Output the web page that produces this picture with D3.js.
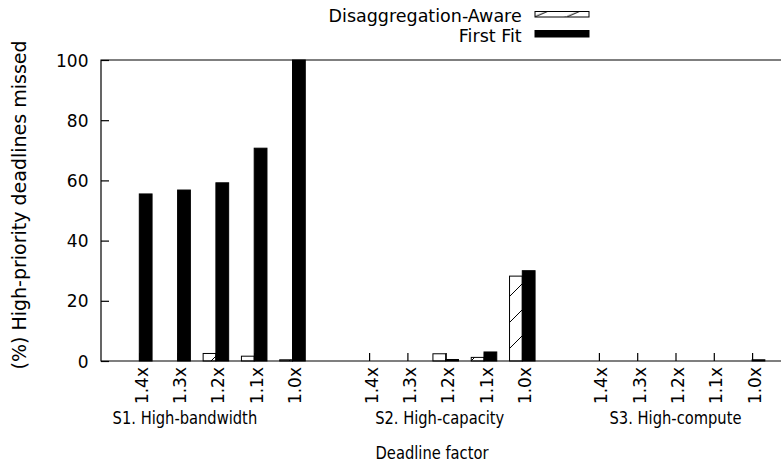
<!DOCTYPE html>
<html>
<head>
<meta charset="utf-8">
<script src="https://cdn.jsdelivr.net/npm/d3@7"></script>
<style>
  body { margin: 0; background: #fff; }
  text { font-family: "DejaVu Sans", sans-serif; fill: #000; }
</style>
</head>
<body>
<svg id="chart" width="781" height="465"></svg>
<script>
// deadline factors inside each scenario group
const categories = ['1.4x', '1.3x', '1.2x', '1.1x', '1.0x'];
const groups = ['S1. High-bandwidth', 'S2. High-capacity', 'S3. High-compute'];
const series = ['Disaggregation-Aware', 'First Fit'];
// % of high-priority deadlines missed, one row per group
const awareValues = [
  [0, 0, 2.5, 1.6, 0.4],
  [0, 0, 2.4, 1.2, 28.2],
  [0, 0, 0, 0, 0]
];
const firstFitValues = [
  [55.5, 56.8, 59.2, 70.7, 100],
  [0, 0, 0.5, 3.0, 30.0],
  [0, 0, 0, 0, 0.4]
];
const yTicks = [0, 20, 40, 60, 80, 100];

const svg = d3.select('#chart');
const plotLeft = 101, plotTop = 60, plotBottom = 361;
const groupGap = 6; // 5 bars + one empty slot
const boxW = 1 / 3;
const titleShift = [-31, -6, 0]; // group titles are nudged, as in the original plot

const x = d3.scaleLinear().domain([-1, 17]).range([plotLeft, 790.4]);
const y = d3.scaleLinear().domain([0, 100]).range([plotBottom, plotTop]);

const defs = svg.append('defs');
defs.append('pattern')
  .attr('id', 'hatch')
  .attr('patternUnits', 'userSpaceOnUse')
  .attr('width', 26).attr('height', 26)
  .call(p => {
    p.append('rect').attr('width', 26).attr('height', 26).attr('fill', '#fff');
    p.append('line').attr('x1', 0).attr('y1', 26).attr('x2', 26).attr('y2', 0)
      .attr('stroke', '#000').attr('stroke-width', 1);
  });
defs.append('pattern')
  .attr('id', 'hatchKey')
  .attr('patternUnits', 'userSpaceOnUse')
  .attr('x', 535).attr('y', 3)
  .attr('width', 32).attr('height', 13.7)
  .call(p => {
    p.append('rect').attr('width', 32).attr('height', 13.7).attr('fill', '#fff');
    p.append('line').attr('x1', 0).attr('y1', 13.7).attr('x2', 32).attr('y2', 0)
      .attr('stroke', '#000').attr('stroke-width', 1);
  });

const rows = [];
groups.forEach((g, gi) => {
  categories.forEach((c, ci) => {
    rows.push({ group: g, cat: c, pos: gi * groupGap + ci, aware: awareValues[gi][ci], ff: firstFitValues[gi][ci] });
  });
});

// bars
const plot = svg.append('g');
plot.selectAll('rect.aware')
  .data(rows)
  .enter().append('rect')
  .attr('class', 'aware')
  .attr('x', d => x(d.pos - boxW))
  .attr('y', d => y(d.aware))
  .attr('width', d => x(d.pos) - x(d.pos - boxW))
  .attr('height', d => y(0) - y(d.aware))
  .attr('fill', 'url(#hatch)')
  .attr('stroke', '#000')
  .attr('stroke-width', 1);

plot.selectAll('rect.ff')
  .data(rows)
  .enter().append('rect')
  .attr('class', 'ff')
  .attr('x', d => x(d.pos))
  .attr('y', d => y(d.ff))
  .attr('width', d => x(d.pos + boxW) - x(d.pos))
  .attr('height', d => y(0) - y(d.ff))
  .attr('fill', '#000')
  .attr('stroke', '#000')
  .attr('stroke-width', 1);

// axes: gnuplot style frame with inward ticks
const yAxis = d3.axisLeft(y).tickValues(yTicks).tickSizeInner(-8).tickSizeOuter(0).tickPadding(12.5);
const gy = svg.append('g').attr('transform', `translate(${plotLeft},0)`).call(yAxis);
gy.select('.domain').remove();
gy.selectAll('.tick line').attr('stroke', '#000').attr('stroke-width', 1.2);
gy.selectAll('.tick text')
  .attr('x', -12.5)
  .attr('dy', '0.36em')
  .attr('font-family', null)
  .attr('font-size', 17)
  .attr('fill', '#000');

const xAxis = d3.axisBottom(x).tickValues(rows.map(d => d.pos)).tickSizeInner(-8).tickSizeOuter(0).tickFormat('');
const gx = svg.append('g').attr('transform', `translate(0,${plotBottom})`).call(xAxis);
gx.select('.domain').remove();
gx.selectAll('.tick line').attr('stroke', '#000').attr('stroke-width', 1.2);

svg.selectAll('text.cat')
  .data(rows)
  .enter().append('text')
  .attr('class', 'cat')
  .attr('text-anchor', 'end')
  .attr('font-size', 17)
  .attr('transform', d => `translate(${x(d.pos) + 8.5},367) rotate(-90)`)
  .text(d => d.cat);

svg.selectAll('text.group')
  .data(groups)
  .enter().append('text')
  .attr('class', 'group')
  .attr('text-anchor', 'middle')
  .attr('font-size', 17.5)
  .attr('transform', (d, i) => `translate(${x(i * groupGap + 2) + titleShift[i]},424) scale(0.84,1)`)
  .text(d => d);

// frame
svg.append('path')
  .attr('d', `M${plotLeft},${plotBottom}H790V${plotTop}H${plotLeft}Z`)
  .attr('fill', 'none')
  .attr('stroke', '#000')
  .attr('stroke-width', 1.2);

svg.append('text')
  .attr('text-anchor', 'middle')
  .attr('font-size', 17.5)
  .attr('transform', 'translate(432,459) scale(0.84,1)')
  .text('Deadline factor');

svg.append('text')
  .attr('text-anchor', 'middle')
  .attr('font-size', 19)
  .attr('transform', 'translate(26,205) rotate(-90)')
  .text('(%) High-priority deadlines missed');

// legend
const keyFills = ['url(#hatchKey)', '#000'];
const legend = svg.append('g');
series.forEach((s, i) => {
  legend.append('text')
    .attr('text-anchor', 'end')
    .attr('font-size', 17.5)
    .attr('transform', `translate(521.7,${21.5 + i * 20})`)
    .text(s);
  legend.append('rect')
    .attr('x', 535).attr('y', 11.5 + i * 19)
    .attr('width', 54).attr('height', 5.5 + i)
    .attr('fill', keyFills[i])
    .attr('stroke', '#000')
    .attr('stroke-width', 1);
});
</script>
</body>
</html>
